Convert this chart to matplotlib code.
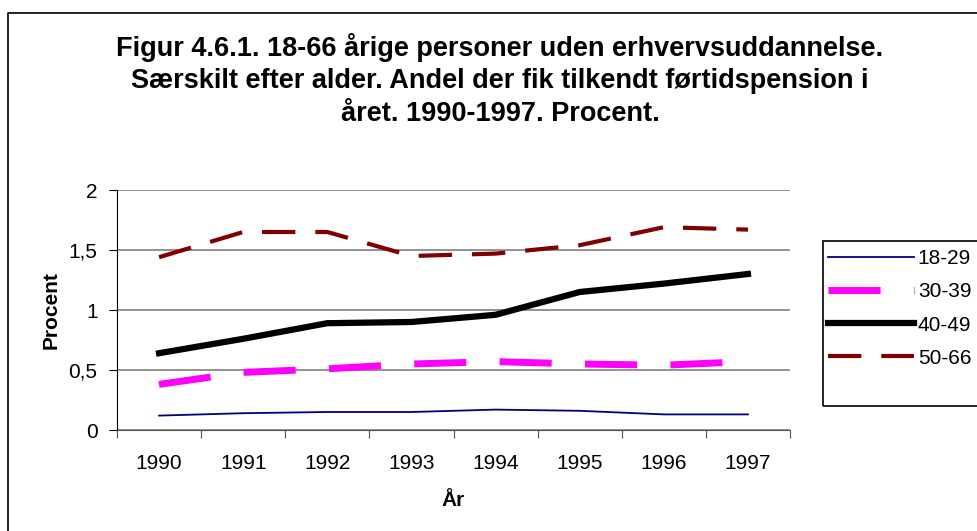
import matplotlib
matplotlib.use("Agg")
import matplotlib.pyplot as plt
from matplotlib.lines import Line2D
from matplotlib.patches import Rectangle

plt.rcParams['font.family'] = ['Liberation Sans', 'DejaVu Sans']

years = ['1990', '1991', '1992', '1993', '1994', '1995', '1996', '1997']
age_18_29 = [0.12, 0.14, 0.15, 0.15, 0.17, 0.16, 0.13, 0.13]
age_30_39 = [0.38, 0.48, 0.51, 0.55, 0.57, 0.55, 0.54, 0.57]
age_40_49 = [0.64, 0.76, 0.89, 0.90, 0.96, 1.15, 1.22, 1.30]
age_50_66 = [1.44, 1.65, 1.65, 1.45, 1.47, 1.54, 1.69, 1.67]

W, H = 977, 531
fig = plt.figure(figsize=(W / 100, H / 100), dpi=100)

# outer chart frame: only top and left edges are visible in the picture
fig.add_artist(Line2D([8 / W, 8 / W, 1.0], [0.0, 1 - 13 / H, 1 - 13 / H],
                      transform=fig.transFigure, color='black', linewidth=1.2))

ax = fig.add_axes([117 / W, 1 - 430 / H, 673 / W, 240 / H])

x = list(range(len(years)))
ax.plot(x, age_18_29, color='#000080', linewidth=1.3, label='18-29')
ax.plot(x, age_30_39, color='#ff00ff', linewidth=5, dashes=(7.5, 4.8), label='30-39')
ax.plot(x, age_40_49, color='black', linewidth=4.5, label='40-49')
ax.plot(x, age_50_66, color='#800000', linewidth=3, dashes=(8, 4.8), label='50-66')

ax.set_xlim(-0.5, 7.5)
ax.set_ylim(0, 2)
ax.set_yticks([0, 0.5, 1, 1.5, 2])
ax.set_yticklabels(['0', '0,5', '1', '1,5', '2'], fontsize=15)
ax.set_xticks([i - 0.5 for i in range(9)])
ax.set_xticklabels([])
ax.set_xticks(x, minor=True)
ax.set_xticklabels(years, minor=True, fontsize=15)
ax.tick_params(axis='x', which='minor', length=0, pad=17)
ax.tick_params(axis='x', which='major', length=6, direction='out', color='#555555')
ax.tick_params(axis='y', length=6, direction='out', pad=8)
ax.yaxis.grid(True, color='#808080', linewidth=1.2)
ax.set_axisbelow(True)
ax.spines['right'].set_visible(False)
ax.spines['top'].set_visible(False)
ax.spines['bottom'].set_color('#555555')

ax.set_xlabel('År', fontsize=15, fontweight='bold', labelpad=13)
ax.set_ylabel('Procent', fontsize=15, fontweight='bold', labelpad=6)

fig.text(500 / W, 1 - 33 / H,
         'Figur 4.6.1. 18-66 årige personer uden erhvervsuddannelse.\n'
         'Særskilt efter alder. Andel der fik tilkendt førtidspension i\n'
         'året. 1990-1997. Procent.',
         ha='center', va='top', fontsize=19.5, fontweight='bold', linespacing=1.32)

# legend frame runs past the right edge of the picture
fig.add_artist(Rectangle((823 / W, 1 - 406 / H), 200 / W, 165 / H,
                         transform=fig.transFigure, fill=False,
                         edgecolor='black', linewidth=1.2))
leg = fig.legend(loc='upper left', bbox_to_anchor=(823 / W, 1 - 244 / H), fontsize=15,
                 frameon=False, handlelength=4.1, handletextpad=0.2,
                 labelspacing=0.68, borderpad=0.25, borderaxespad=0)

fig.savefig('out.png', dpi=100)
